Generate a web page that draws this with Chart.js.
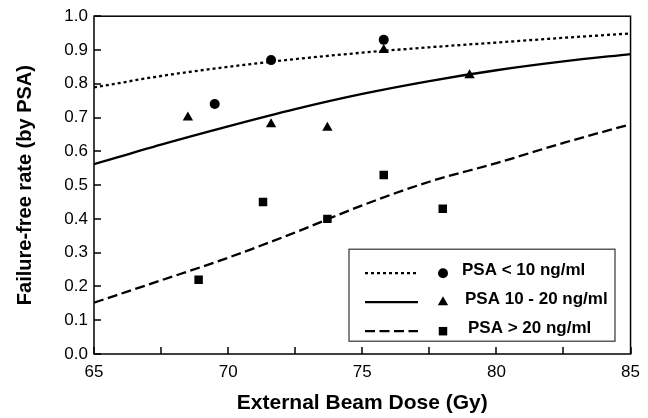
<!DOCTYPE html>
<html>
<head>
<meta charset="utf-8">
<script src="https://cdn.jsdelivr.net/npm/chart.js@4.4.0/dist/chart.umd.min.js"></script>
<style>
  html, body { margin: 0; padding: 0; background: #fff; }
</style>
</head>
<body>
<canvas id="chart" width="648" height="418"></canvas>
<script>
// fitted curves
const curveDose = [65, 67.5, 70, 72.5, 75, 77.5, 80, 82.5, 85];
const fitLow = [0.789, 0.823, 0.85, 0.873, 0.892, 0.908, 0.922, 0.936, 0.949];
const fitMid = [0.562, 0.62, 0.674, 0.725, 0.77, 0.808, 0.84, 0.866, 0.888];
const fitHigh = [0.152, 0.218, 0.285, 0.36, 0.44, 0.51, 0.565, 0.625, 0.68];

// observed points
const lowDose = [69.5, 71.6, 75.8];
const lowRate = [0.74, 0.87, 0.93];
const midDose = [68.5, 71.6, 73.7, 75.8, 79.0];
const midRate = [0.70, 0.68, 0.67, 0.90, 0.825];
const highDose = [68.9, 71.3, 73.7, 75.8, 78.0];
const highRate = [0.22, 0.45, 0.40, 0.53, 0.43];

const legendLabels = ["PSA < 10 ng/ml", "PSA 10 - 20 ng/ml", "PSA > 20 ng/ml"];
const xTitle = "External Beam Dose (Gy)";
const yTitle = "Failure-free rate (by PSA)";

const FONT = '"Liberation Sans", Arial, sans-serif';
const DOTTED = [3, 3];
const DASHED = [10, 4.5];

function pairs(xs, ys) {
  return xs.map((x, i) => ({ x: x, y: ys[i] }));
}

function markerSet(xs, ys, style, r) {
  return {
    data: pairs(xs, ys),
    showLine: false,
    pointStyle: style,
    pointRadius: r,
    pointBackgroundColor: '#000',
    pointBorderColor: '#000',
    pointBorderWidth: 0
  };
}

function curveSet(ys, dash) {
  return {
    data: pairs(curveDose, ys),
    showLine: true,
    pointRadius: 0,
    borderColor: '#000',
    borderWidth: 2.3,
    borderDash: dash,
    cubicInterpolationMode: 'monotone'
  };
}

// frame, inward ticks and the boxed legend
const frameAndLegend = {
  id: 'frameAndLegend',
  afterDraw(chart) {
    const { ctx, chartArea: a, scales } = chart;
    ctx.save();
    ctx.strokeStyle = '#000';
    ctx.lineWidth = 1.5;
    ctx.strokeRect(a.left, a.top, a.right - a.left, a.bottom - a.top);
    ctx.beginPath();
    scales.x.ticks.forEach(t => {
      const px = Math.round(scales.x.getPixelForValue(t.value));
      ctx.moveTo(px, a.bottom);
      ctx.lineTo(px, a.bottom - 7);
    });
    scales.y.ticks.forEach(t => {
      const py = Math.round(scales.y.getPixelForValue(t.value));
      ctx.moveTo(a.left, py);
      ctx.lineTo(a.left + 7, py);
    });
    ctx.stroke();

    // legend box
    const bx = a.left + 255, by = a.top + 233, bw = 266, bh = 92;
    ctx.fillStyle = '#fff';
    ctx.fillRect(bx, by, bw, bh);
    ctx.lineWidth = 1.2;
    ctx.strokeStyle = '#333';
    ctx.strokeRect(bx, by, bw, bh);

    const rows = [by + 24, by + 53, by + 82];
    const dashes = [DOTTED, [], DASHED];
    const styles = ['circle', 'triangle', 'rect'];
    const radii = [5, 6, 6];
    const textX = [bx + 113, bx + 116, bx + 119];
    ctx.strokeStyle = '#000';
    ctx.fillStyle = '#000';
    rows.forEach((ry, i) => {
      ctx.lineWidth = 2.3;
      ctx.setLineDash(dashes[i]);
      ctx.beginPath();
      ctx.moveTo(bx + 16, ry);
      ctx.lineTo(bx + 69, ry);
      ctx.stroke();
      ctx.setLineDash([]);
      Chart.helpers.drawPoint(ctx, { pointStyle: styles[i], radius: radii[i], borderWidth: 0, rotation: 0 }, bx + 94, ry);
      ctx.font = 'bold 17px ' + FONT;
      ctx.textBaseline = 'middle';
      ctx.textAlign = 'left';
      ctx.fillText(legendLabels[i], textX[i], ry - 3);
    });
    ctx.restore();
  }
};

new Chart(document.getElementById('chart'), {
  type: 'scatter',
  data: {
    datasets: [
      markerSet(lowDose, lowRate, 'circle', 5),
      markerSet(midDose, midRate, 'triangle', 6),
      markerSet(highDose, highRate, 'rect', 6),
      curveSet(fitLow, DOTTED),
      curveSet(fitMid, []),
      curveSet(fitHigh, DASHED)
    ]
  },
  options: {
    responsive: false,
    animation: false,
    devicePixelRatio: 1,
    layout: { padding: { top: 15, right: 11, left: 0, bottom: 0 } },
    plugins: {
      legend: { display: false },
      tooltip: { enabled: false }
    },
    scales: {
      x: {
        type: 'linear',
        min: 65,
        max: 85,
        grid: { display: false, drawTicks: false },
        border: { display: false },
        ticks: {
          stepSize: 2.5,
          autoSkip: false,
          maxRotation: 0,
          padding: 8,
          color: '#000',
          font: { family: FONT, size: 17 },
          callback: v => (v % 5 === 0 ? String(v) : '')
        },
        title: {
          display: true,
          text: xTitle,
          color: '#000',
          font: { family: FONT, size: 21, weight: 'bold' },
          padding: { top: 0, bottom: 2 }
        },
        afterFit: s => { s.height = 64; }
      },
      y: {
        min: 0,
        max: 1,
        grid: { display: false, drawTicks: false },
        border: { display: false },
        ticks: {
          stepSize: 0.1,
          padding: 6,
          color: '#000',
          font: { family: FONT, size: 17 },
          callback: v => v.toFixed(1)
        },
        title: {
          display: true,
          text: yTitle,
          color: '#000',
          font: { family: FONT, size: 20, weight: 'bold' },
          padding: { top: 13, bottom: 0 }
        },
        afterFit: s => { s.width = 94; }
      }
    }
  },
  plugins: [frameAndLegend]
});
</script>
</body>
</html>
